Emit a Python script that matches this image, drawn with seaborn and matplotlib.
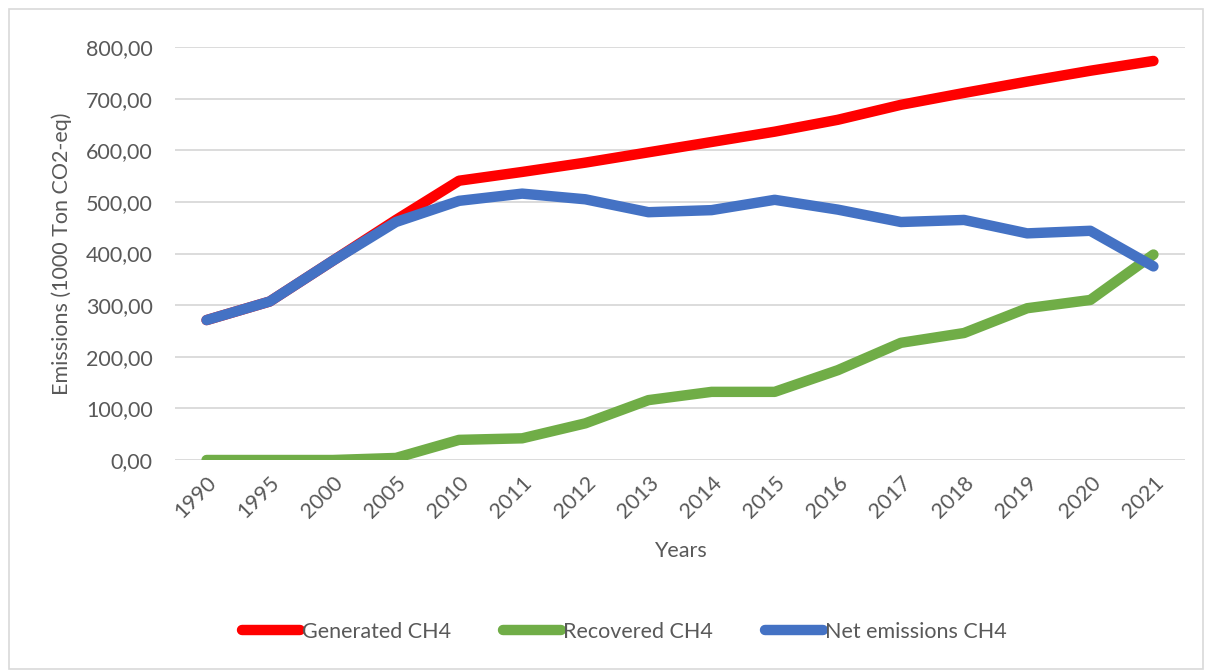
import pandas as pd
import matplotlib.pyplot as plt
import matplotlib.patches as mpatches
import seaborn as sns

years = ["1990", "1995", "2000", "2005", "2010", "2011", "2012", "2013",
         "2014", "2015", "2016", "2017", "2018", "2019", "2020", "2021"]
generated = [271, 307, 386, 465, 541, 558, 576, 596, 616, 636, 659, 688, 711, 733, 754, 773]
recovered = [0, 0, 0, 4, 39, 42, 71, 116, 132, 132, 174, 227, 246, 294, 310, 398]
net_emissions = [271, 307, 386, 461, 502, 516, 505, 480, 484, 504, 485, 461, 465, 439, 444, 375]

series_names = ["Generated CH4", "Recovered CH4", "Net emissions CH4"]
colors = ["#FF0000", "#70AD47", "#4472C4"]

TEXT = "#595959"


def build_frame():
    """Long-form table for seaborn."""
    rows = []
    for name, vals in zip(series_names, [generated, recovered, net_emissions]):
        for y, v in zip(years, vals):
            rows.append({"Year": y, "Value": v, "Series": name})
    return pd.DataFrame(rows)


def main():
    sns.set_theme(style="white")
    plt.rcParams["font.family"] = ["Lato", "DejaVu Sans"]

    df = build_frame()

    fig = plt.figure(figsize=(12.08, 6.7), dpi=100)
    ax = fig.add_axes([175 / 1208, 1 - 460 / 670, 1010 / 1208, 413 / 670])

    sns.lineplot(data=df, x="Year", y="Value", hue="Series",
                 palette=dict(zip(series_names, colors)), hue_order=series_names,
                 linewidth=7.5, solid_capstyle="round", ax=ax, sort=False)

    ax.set_xlim(-0.5, len(years) - 0.5)
    ax.set_ylim(0, 800)
    ax.set_yticks(range(0, 801, 100))
    ax.set_yticklabels([f"{v},00" for v in range(0, 801, 100)])
    ax.yaxis.grid(True, color="#D9D9D9", linewidth=1.3)
    ax.set_axisbelow(True)
    for s in ax.spines.values():
        s.set_visible(False)
    ax.tick_params(axis="both", length=0, colors=TEXT, labelsize=15.5)
    ax.tick_params(axis="y", pad=16)
    plt.setp(ax.get_xticklabels(), rotation=45, ha="right", rotation_mode="anchor")
    ax.tick_params(axis="x", pad=9)

    ax.set_xlabel("Years", color=TEXT, fontsize=15.5, labelpad=14)
    ax.set_ylabel("Emissions (1000 Ton CO2-eq)", color=TEXT, fontsize=15.5, labelpad=10)

    handles, labels = ax.get_legend_handles_labels()
    ax.get_legend().remove()
    leg = fig.legend(handles, labels, loc="center", bbox_to_anchor=(0.517, 0.057),
                     ncol=3, frameon=False, fontsize=15.5, handlelength=2.7,
                     handletextpad=0.1, columnspacing=2.4)
    for line in leg.get_lines():
        line.set_linewidth(7.5)
        line.set_solid_capstyle("round")
    for t in leg.get_texts():
        t.set_color(TEXT)

    fig.patches.append(mpatches.Rectangle((9 / 1208, 0.002), 1194 / 1208, 1 - 9 / 670 - 0.002,
                                          transform=fig.transFigure, fill=False,
                                          edgecolor="#D9D9D9", linewidth=1.2))

    fig.savefig("out.png", dpi=100)


if __name__ == "__main__":
    main()
